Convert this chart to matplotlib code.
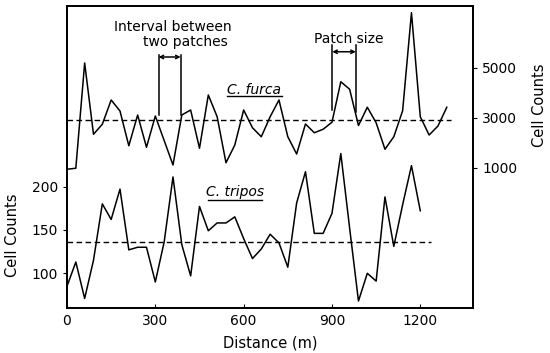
import matplotlib
matplotlib.use('Agg')
import matplotlib.pyplot as plt
import numpy as np

# sampling interval along the transect (m)
step = 30

furca_counts = [950, 990, 5200, 2350, 2750, 3720, 3280, 1890, 3120, 1830, 3080,
                2100, 1120, 3120, 3320, 1790, 3920, 3050, 1210, 1920, 3320, 2610,
                2250, 3050, 3720, 2250, 1560, 2760, 2410, 2550, 2830, 4450, 4150,
                2700, 3430, 2810, 1750, 2250, 3290, 7210, 3050, 2320, 2680, 3430]
tripos_counts = [85, 113, 71, 115, 180, 162, 197, 127, 130, 130, 90, 136, 211,
                 133, 97, 177, 149, 158, 158, 165, 140, 117, 128, 145, 135, 107,
                 181, 217, 146, 146, 169, 238, 152, 68, 100, 91, 188, 131, 179,
                 224, 172]
furca_mean = 2900
tripos_mean = 136
furca_mean_end = 1305
tripos_mean_end = 1235

x_ticks = [0, 300, 600, 900, 1200]
left_ticks = [100, 150, 200]
right_ticks = [1000, 3000, 5000]

furca_x = np.arange(len(furca_counts)) * step
tripos_x = np.arange(len(tripos_counts)) * step

plt.rcParams['font.family'] = 'DejaVu Sans'
fig = plt.figure(figsize=(5.5, 3.53), dpi=100)
ax = fig.add_axes([0.1218, 0.1275, 0.7382, 0.8555])
ax2 = ax.twinx()

# C. tripos on the left scale
ax.plot(tripos_x, tripos_counts, color='black', lw=1.1)
ax.plot([0, tripos_mean_end], [tripos_mean, tripos_mean], color='black',
        lw=1.0, ls=(0, (4, 2.5)))
ax.set_xlim(0, 1379)
ax.set_ylim(60, 408)
ax.set_xticks(x_ticks)
ax.set_yticks(left_ticks)
ax.tick_params(axis='x', direction='in', length=3, labelsize=10, pad=4)
ax.tick_params(axis='y', direction='out', length=3, labelsize=10)
ax.set_xlabel('Distance (m)', fontsize=10.5, labelpad=6)
ax.set_ylabel('Cell Counts', fontsize=10.5, labelpad=6)
ax.yaxis.set_label_coords(-0.115, 0.24)

# C. furca on the right scale
ax2.plot(furca_x, furca_counts, color='black', lw=1.1)
ax2.plot([0, furca_mean_end], [furca_mean, furca_mean], color='black',
         lw=1.0, ls=(0, (4, 2.5)))
ax2.set_ylim(-4600, 7480)
ax2.set_yticks(right_ticks)
ax2.tick_params(axis='y', direction='out', length=3, labelsize=10)
ax2.set_ylabel('Cell Counts', fontsize=10.5, labelpad=8)
ax2.yaxis.set_label_coords(1.145, 0.67)

for a in (ax, ax2):
    for s in a.spines.values():
        s.set_linewidth(1.3)

# species labels, underlined
for label, xc, yc, x0, x1, yu in [('C. furca', 0.461, 0.722, 0.394, 0.530, 0.702),
                                  ('C. tripos', 0.414, 0.384, 0.347, 0.480, 0.358)]:
    ax.text(xc, yc, label, transform=ax.transAxes, ha='center', va='center',
            style='italic', fontsize=10)
    ax.plot([x0, x1], [yu, yu], transform=ax.transAxes, color='black', lw=1.0)

# interval between two patches
ax.text(0.261, 0.930, 'Interval between', transform=ax.transAxes,
        ha='center', va='center', fontsize=10)
ax.text(0.292, 0.881, 'two patches', transform=ax.transAxes,
        ha='center', va='center', fontsize=10)
for xv in (311, 386):
    ax2.plot([xv, xv], [3120, 5520], color='black', lw=1.1)
ax2.annotate('', xy=(311, 5440), xytext=(386, 5440),
             arrowprops=dict(arrowstyle='<->', lw=1.1, color='black',
                             shrinkA=0, shrinkB=0, mutation_scale=6))

# patch size
ax.text(0.695, 0.891, 'Patch size', transform=ax.transAxes,
        ha='center', va='center', fontsize=10)
for xv, yb in ((901, 3320), (981, 3240)):
    ax2.plot([xv, xv], [yb, 5920], color='black', lw=1.1)
ax2.annotate('', xy=(901, 5650), xytext=(981, 5650),
             arrowprops=dict(arrowstyle='<->', lw=1.1, color='black',
                             shrinkA=0, shrinkB=0, mutation_scale=6))

fig.savefig('out.png', dpi=100)
